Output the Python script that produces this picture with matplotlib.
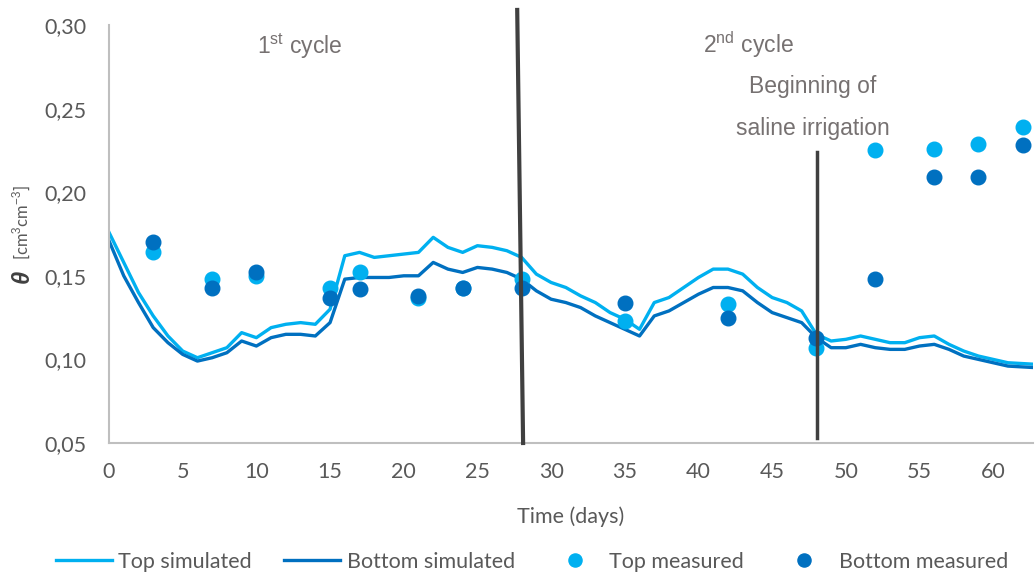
import matplotlib
matplotlib.use("Agg")
import matplotlib.pyplot as plt
from matplotlib.lines import Line2D
from matplotlib.ticker import FuncFormatter

# Simulated water content, one value per day
days = list(range(64))
top_sim = [0.176, 0.158, 0.140, 0.126, 0.114, 0.105, 0.101, 0.104, 0.107, 0.116,
           0.113, 0.119, 0.121, 0.122, 0.121, 0.130, 0.162, 0.164, 0.161, 0.162,
           0.163, 0.164, 0.173, 0.167, 0.164, 0.168, 0.167, 0.165, 0.161, 0.151,
           0.146, 0.143, 0.138, 0.134, 0.128, 0.124, 0.118, 0.134, 0.137, 0.143,
           0.149, 0.154, 0.154, 0.151, 0.143, 0.137, 0.134, 0.129, 0.115, 0.111,
           0.112, 0.114, 0.112, 0.110, 0.110, 0.113, 0.114, 0.109, 0.105, 0.102,
           0.100, 0.098, 0.0975, 0.097]
bottom_sim = [0.171, 0.150, 0.134, 0.119, 0.110, 0.103, 0.099, 0.101, 0.104, 0.111,
              0.108, 0.113, 0.115, 0.115, 0.114, 0.122, 0.148, 0.149, 0.149, 0.149,
              0.150, 0.150, 0.158, 0.154, 0.152, 0.155, 0.154, 0.152, 0.148, 0.141,
              0.136, 0.134, 0.131, 0.126, 0.122, 0.118, 0.114, 0.126, 0.129, 0.134,
              0.139, 0.143, 0.143, 0.141, 0.134, 0.128, 0.125, 0.122, 0.113, 0.107,
              0.107, 0.109, 0.107, 0.106, 0.106, 0.108, 0.109, 0.106, 0.102, 0.100,
              0.098, 0.096, 0.0955, 0.095]

# Measured water content
meas_days = [3, 7, 10, 15, 17, 21, 24, 28, 35, 42, 48, 52, 56, 59, 62]
top_meas = [0.164, 0.148, 0.150, 0.143, 0.152, 0.137, 0.143, 0.148, 0.123, 0.133,
            0.107, 0.225, 0.226, 0.229, 0.239]
bottom_meas = [0.170, 0.143, 0.152, 0.137, 0.142, 0.138, 0.143, 0.143, 0.134, 0.125,
               0.113, 0.148, 0.209, 0.209, 0.228]

x_ticks = list(range(0, 61, 5))
y_ticks = [0.05, 0.10, 0.15, 0.20, 0.25, 0.30]

TOP = "#00B0F0"
BOTTOM = "#0070C0"
GRID = "#BFBFBF"
LABEL = "#595959"
NOTE = "#767171"

plt.rcParams["font.family"] = ["Lato", "DejaVu Sans"]
plt.rcParams["mathtext.fontset"] = "custom"
plt.rcParams["mathtext.rm"] = "Liberation Sans"

fig = plt.figure(figsize=(10.35, 5.78), dpi=100)
ax = fig.add_axes([109 / 1035, 135 / 578, 924 / 1035, 418 / 578])

ax.plot(days, top_sim, color=TOP, lw=2.4, label="Top simulated", zorder=2)
ax.plot(days, bottom_sim, color=BOTTOM, lw=2.4, label="Bottom simulated", zorder=2)
ax.plot(meas_days, top_meas, "o", color=TOP, ms=10.5, label="Top measured", zorder=3)
ax.plot(meas_days, bottom_meas, "o", color=BOTTOM, ms=10.5, label="Bottom measured", zorder=3)

# cycle separator and start of saline irrigation
ax.add_line(Line2D([27.7, 28.1], [0.309, 0.05], color="#404040", lw=3, clip_on=False, zorder=4))
ax.add_line(Line2D([48.05, 48.05], [0.224, 0.053], color="#404040", lw=2.5, zorder=4))

ax.set_xlim(0, 62.7)
ax.set_ylim(0.05, 0.30)
ax.set_xticks(x_ticks)
ax.set_yticks(y_ticks)
ax.yaxis.set_major_formatter(FuncFormatter(lambda v, p: f"{v:.2f}".replace(".", ",")))
ax.tick_params(length=0, labelsize=15.5, colors=LABEL)
ax.tick_params(axis="x", pad=14)
ax.tick_params(axis="y", pad=16)
for s in ("top", "right"):
    ax.spines[s].set_visible(False)
for s in ("left", "bottom"):
    ax.spines[s].set_color(GRID)
    ax.spines[s].set_linewidth(1.5)

ax.set_xlabel("Time (days)", fontsize=15.5, color=LABEL, labelpad=17)

fig.text(22 / 1035, 1 - 276 / 578, "θ", rotation=90, ha="center", va="center",
         fontsize=17, fontstyle="italic", fontweight="bold", color="#404040",
         family=["Liberation Sans", "DejaVu Sans"])
fig.text(22 / 1035, 1 - 222 / 578, r"[cm$^{3}$cm$^{-3}$]", rotation=90, ha="center",
         va="center", fontsize=12, color=LABEL)

note_kw = dict(fontsize=16.5, color=NOTE, ha="center", va="center",
               family=["Liberation Sans", "DejaVu Sans"])
fig.text(300 / 1035, 1 - 46 / 578, r"1$^{\mathrm{st}}$ cycle", **note_kw)
fig.text(748 / 1035, 1 - 45 / 578, r"2$^{\mathrm{nd}}$ cycle", **note_kw)
fig.text(813 / 1035, 1 - 87 / 578, "Beginning of", **note_kw)
fig.text(813 / 1035, 1 - 128 / 578, "saline irrigation", **note_kw)

fig.legend(loc="center", bbox_to_anchor=(532 / 1035, 1 - 562 / 578), ncol=4,
           frameon=False, fontsize=15.5, labelcolor=LABEL, handlelength=2.6,
           handletextpad=0.3, columnspacing=1.5, markerscale=0.9)

fig.savefig("out.png", dpi=100)
